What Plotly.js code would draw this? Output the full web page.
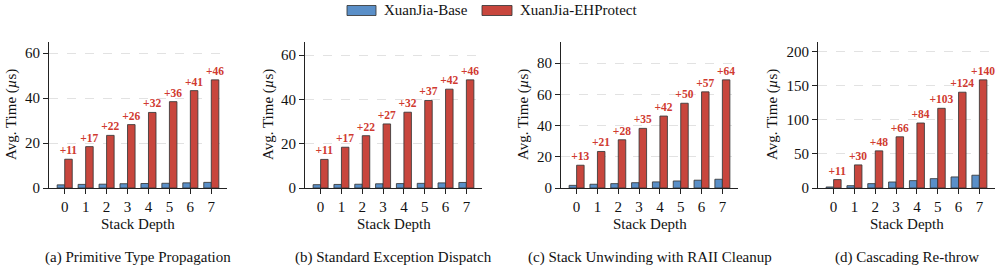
<!DOCTYPE html>
<html>
<head>
<meta charset="utf-8">
<script src="https://cdn.plot.ly/plotly-3.0.1.min.js"></script>
<style>html,body{margin:0;padding:0;background:#fff;}#chart{width:997px;height:267px;}</style>
</head>
<body>
<div id="chart"></div>
<script>
// ---- data ----
var depth = [0, 1, 2, 3, 4, 5, 6, 7];
var seriesNames = ['XuanJia-Base', 'XuanJia-EHProtect'];

var baseA = [1.4, 1.6, 1.7, 1.9, 2.0, 2.1, 2.3, 2.5];
var ehA   = [12.8, 18.4, 23.4, 28.2, 33.6, 38.4, 43.3, 48.1];
var labA  = ['+11', '+17', '+22', '+26', '+32', '+36', '+41', '+46'];

var baseB = [1.5, 1.6, 1.7, 1.9, 2.0, 2.1, 2.3, 2.5];
var ehB   = [12.9, 18.4, 23.6, 28.9, 34.2, 39.5, 44.6, 48.8];
var labB  = ['+11', '+17', '+22', '+27', '+32', '+37', '+42', '+46'];

var baseC = [1.7, 2.4, 2.8, 3.4, 3.9, 4.5, 5.0, 5.6];
var ehC   = [14.6, 23.4, 30.9, 38.2, 46.1, 54.3, 61.6, 69.3];
var labC  = ['+13', '+21', '+28', '+35', '+42', '+50', '+57', '+64'];

var baseD = [1.5, 3.4, 6.4, 8.8, 10.8, 13.7, 16.2, 18.7];
var ehD   = [12.3, 33.8, 54.4, 75.0, 95.2, 116.7, 140.3, 158.4];
var labD  = ['+11', '+30', '+48', '+66', '+84', '+103', '+124', '+140'];

var captions = ['(a) Primitive Type Propagation', '(b) Standard Exception Dispatch',
                '(c) Stack Unwinding with RAII Cleanup', '(d) Cascading Re-throw'];
var xTitle = 'Stack Depth';
var yTitle = 'Avg. Time (<i>\u00b5</i>s)';
var yDticks = [20, 20, 20, 50];

// ---- styling ----
var W = 997, H = 267;
var BLUE = '#5a8fc8', RED = '#c8463d', EDGE = 'rgba(55,55,55,0.85)';
var FONT = "'Liberation Serif', 'Times New Roman', serif";
var xPix = [[49, 227], [305, 482], [561, 738], [818, 995]];
var yTitleX = [11, 268, 523, 772];
var yDom = [(H - 188) / H, (H - 42) / H];

var panels = [[baseA, ehA, labA], [baseB, ehB, labB], [baseC, ehC, labC], [baseD, ehD, labD]];

var data = [];
var layout = {
  width: W, height: H,
  margin: {l: 0, r: 0, t: 0, b: 0},
  paper_bgcolor: '#fff', plot_bgcolor: '#fff',
  barmode: 'group', bargap: 0.28, bargroupgap: 0,
  showlegend: false,
  font: {family: FONT, size: 15, color: '#111'},
  annotations: [], shapes: []
};

panels.forEach(function (p, i) {
  var sfx = i === 0 ? '' : String(i + 1);
  var xa = 'x' + sfx, ya = 'y' + sfx;
  data.push({
    type: 'bar', x: depth, y: p[0], name: seriesNames[0], xaxis: xa, yaxis: ya,
    marker: {color: BLUE, line: {color: EDGE, width: 1}}, hoverinfo: 'y'
  });
  data.push({
    type: 'bar', x: depth, y: p[1], name: seriesNames[1], xaxis: xa, yaxis: ya,
    marker: {color: RED, line: {color: EDGE, width: 1}},
    text: p[2], textposition: 'outside', textangle: 0, constraintext: 'none',
    cliponaxis: false,
    textfont: {family: FONT, size: 11.5, color: '#d03a30', weight: 'bold'},
    hoverinfo: 'y'
  });
  var ymax = Math.max.apply(null, p[1]) * 1.35;
  layout['xaxis' + sfx] = {
    domain: [xPix[i][0] / W, xPix[i][1] / W], anchor: ya,
    range: [-0.75, 7.75], tickmode: 'linear', tick0: 0, dtick: 1,
    showline: true, linecolor: '#222', linewidth: 1,
    ticks: 'outside', ticklen: 5, tickcolor: '#222', tickwidth: 1,
    showgrid: false, zeroline: false, ticklabelstandoff: 0,
    tickfont: {family: FONT, size: 15, color: '#111'}
  };
  layout['yaxis' + sfx] = {
    domain: yDom, anchor: xa, range: [0, ymax],
    tickmode: 'linear', tick0: 0, dtick: yDticks[i],
    showline: true, linecolor: '#222', linewidth: 1,
    ticks: 'outside', ticklen: 5, tickcolor: '#222', tickwidth: 1,
    showgrid: true, gridcolor: '#e2e2e2', gridwidth: 1, griddash: 'dash',
    zeroline: false,
    tickfont: {family: FONT, size: 15, color: '#111'}
  };
  var cx = (xPix[i][0] + xPix[i][1]) / 2 / W;
  layout.annotations.push({
    xref: 'paper', yref: 'paper', x: cx, y: (H - 224) / H,
    text: xTitle, showarrow: false, xanchor: 'center', yanchor: 'middle',
    font: {family: FONT, size: 15, color: '#111'}
  });
  layout.annotations.push({
    xref: 'paper', yref: 'paper', x: cx, y: (H - 257) / H,
    text: captions[i], showarrow: false, xanchor: 'center', yanchor: 'middle',
    font: {family: FONT, size: 15, color: '#111'}
  });
  layout.annotations.push({
    xref: 'paper', yref: 'paper', x: yTitleX[i] / W, y: (yDom[0] + yDom[1]) / 2,
    text: yTitle, showarrow: false, textangle: -90, xanchor: 'center', yanchor: 'middle',
    font: {family: FONT, size: 15, color: '#111'}
  });
});

// custom legend (wide swatches as in the reference)
var legItems = [{x0: 347, x1: 376, tx: 382, c: BLUE, t: seriesNames[0]},
                {x0: 482, x1: 512, tx: 518, c: RED, t: seriesNames[1]}];
legItems.forEach(function (it) {
  layout.shapes.push({
    type: 'rect', xref: 'paper', yref: 'paper',
    x0: it.x0 / W, x1: it.x1 / W, y0: (H - 15.5) / H, y1: (H - 5.5) / H,
    fillcolor: it.c, line: {color: EDGE, width: 1}
  });
  layout.annotations.push({
    xref: 'paper', yref: 'paper', x: it.tx / W, y: (H - 10.5) / H,
    text: it.t, showarrow: false, xanchor: 'left', yanchor: 'middle',
    font: {family: FONT, size: 15, color: '#111'}
  });
});

Plotly.newPlot('chart', data, layout, {staticPlot: true, displayModeBar: false});
</script>
</body>
</html>
